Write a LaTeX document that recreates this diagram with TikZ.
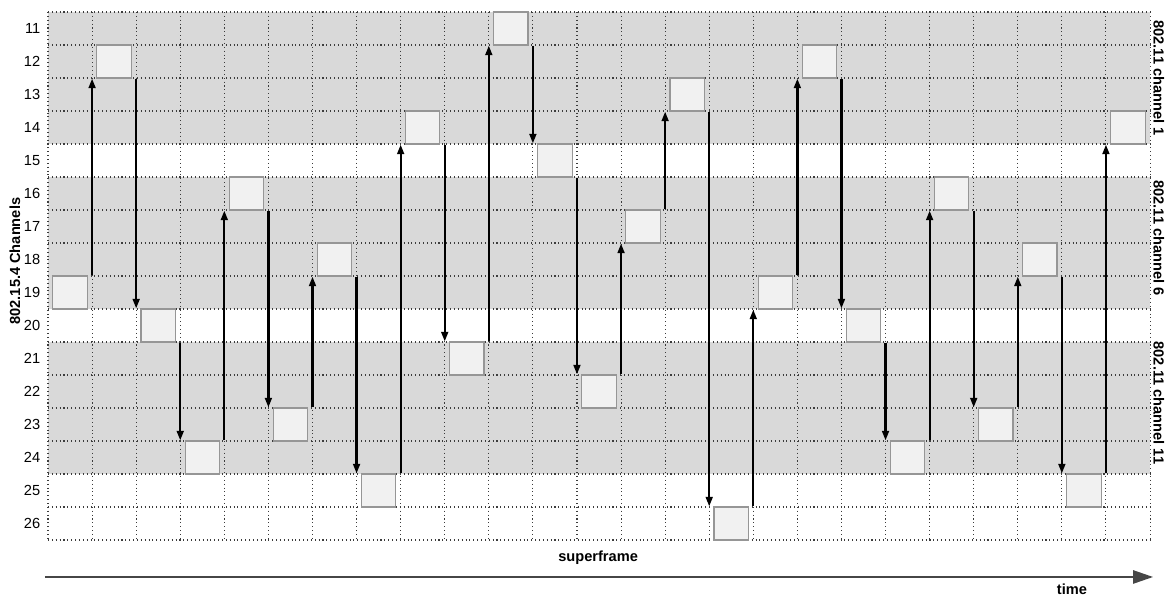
\documentclass[tikz,border=0pt]{standalone}
\usepackage{fontspec}
\setmainfont{Liberation Sans}
\usetikzlibrary{arrows.meta,calc}
\definecolor{BandGray}{RGB}{217,217,217}
\definecolor{SlotFill}{RGB}{241,241,241}
\definecolor{SlotEdge}{RGB}{150,150,150}
\definecolor{GridDot}{RGB}{60,60,60}
\definecolor{TimeGray}{RGB}{70,70,70}
\tikzset{
  band/.style={fill=BandGray,draw=none},
  gridline/.style={draw=GridDot,line width=0.75pt,dotted},
  slot/.style={draw=SlotEdge,fill=SlotFill,line width=0.8pt,inner sep=0pt,
    minimum width=0.86cm,minimum height=0.825cm},
  hop/.style={-{Triangle[length=0.24cm,width=0.17cm]},line width=1.6pt,draw=black},
  chlabel/.style={anchor=east,inner sep=0pt,font=\fontsize{10.4}{12}\selectfont},
  sidelabel/.style={inner sep=0pt,font=\fontsize{10.4}{12}\selectfont\bfseries},
  timeaxis/.style={-{Triangle[length=0.5cm,width=0.33cm]},line width=1.4pt,draw=TimeGray}
}
\begin{document}
\begin{tikzpicture}[x=1.102cm,y=-0.825cm]
  \useasboundingbox (-1.089,-0.364) rectangle (25.408,17.727);
  % shaded 802.11 bands
  \fill[band] (0,0) rectangle (25,4);
  \fill[band] (0,5) rectangle (25,9);
  \fill[band] (0,10) rectangle (25,14);
  % dotted grid
  \foreach \i in {0,...,25}
    \draw[gridline] (\i,0) -- (\i,16);
  \foreach \r in {0,...,16}
    \draw[gridline] (0,\r) -- (25,\r);
  \foreach \i in {0,...,25}
    \coordinate (c\i) at (\i,0);
  % channel numbers
  \foreach \ch [count=\r from 0] in {11,...,26}
    \node[chlabel] (lab\ch) at (-0.17,\r+0.5) {\ch};
  % hopping slots and hops
  \foreach \ch [count=\k from 0, remember=\ch as \prev (initially 0)] in
      {19,12,20,24,16,23,18,25,14,21,11,15,22,17,13,26,19,12,20,24,16,23,18,25,14} {
    \node[slot] (slot\k) at ({\k+0.5},{\ch-10.5}) {};
    \ifnum\k>0
      \pgfmathtruncatemacro\j{\k-1}
      \ifnum\ch<\prev
        \draw[hop] (c\k |- slot\j.north) -- (c\k |- slot\k.south);
      \else
        \draw[hop] (c\k |- slot\j.south) -- (c\k |- slot\k.north);
      \fi
    \fi
  }
  % axis labels
  \node[sidelabel,rotate=90] (ylab) at (-0.75,7.55) {802.15.4 Channels};
  \node[sidelabel,rotate=-90] (wifi1) at (25.2,2) {802.11 channel 1};
  \node[sidelabel,rotate=-90] (wifi6) at (25.2,6.85) {802.11 channel 6};
  \node[sidelabel,rotate=-90] (wifi11) at (25.2,11.85) {802.11 channel 11};
  \node[sidelabel] (sf) at (12.48,16.55) {superframe};
  \coordinate (t0) at (-0.07,17.12);
  \coordinate (t1) at (25.07,17.12);
  \draw[timeaxis] (t0) -- (t1);
  \node[sidelabel] (tlab) at (23.23,17.48) {time};
\end{tikzpicture}
\end{document}
